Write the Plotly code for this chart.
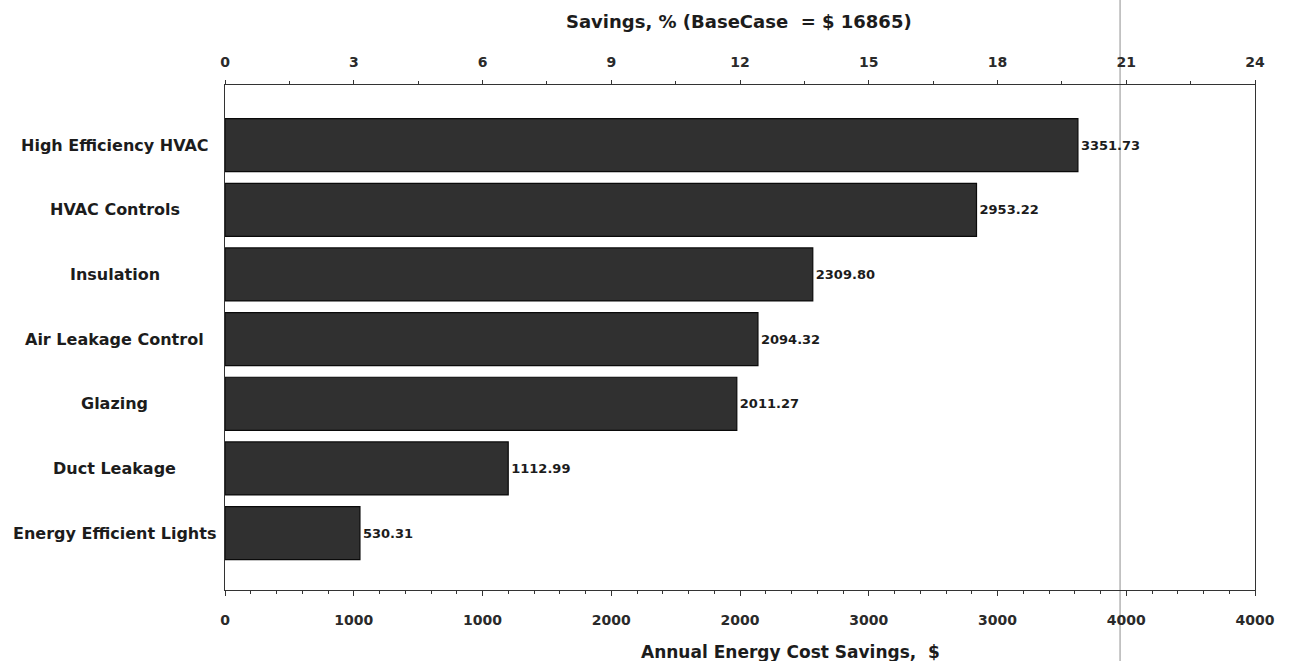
import plotly.graph_objects as go

# Energy-efficiency measures and their annual cost savings ($)
measures = [
    "High Efficiency HVAC",
    "HVAC Controls",
    "Insulation",
    "Air Leakage Control",
    "Glazing",
    "Duct Leakage",
    "Energy Efficient Lights",
]
savings = [3351.73, 2953.22, 2309.80, 2094.32, 2011.27, 1112.99, 530.31]

base_case = 16865  # annual energy cost of the base case, $

# Top axis: savings as percentage of base case
pct_ticks = [0, 3, 6, 9, 12, 15, 18, 21, 24]
# Bottom axis: the same tick positions expressed in dollars, shown rounded to thousands
dollar_ticktext = ["0", "1000", "1000", "2000", "2000", "3000", "3000", "4000", "4000"]

FONT = "DejaVu Sans"
INK = "#1c1c1c"

pct_max = pct_ticks[-1]
dollar_max = base_case * pct_max / 100
dollar_tickvals = [base_case * p / 100 for p in pct_ticks]
ypos = list(range(len(measures)))

fig = go.Figure()

fig.add_trace(go.Bar(
    x=savings,
    y=ypos,
    orientation="h",
    width=0.82,
    marker=dict(color="#303030", line=dict(color="#0a0a0a", width=1.2)),
    text=[f"{v:.2f}" for v in savings],
    textposition="outside",
    textfont=dict(family=FONT, size=13, color=INK, weight="bold"),
    cliponaxis=False,
    xaxis="x",
    yaxis="y",
    showlegend=False,
    hoverinfo="skip",
))

# Invisible companion trace on the percentage axis so it is laid out
fig.add_trace(go.Scatter(
    x=[v / base_case * 100 for v in savings],
    y=ypos,
    mode="markers",
    marker=dict(opacity=0),
    xaxis="x2",
    yaxis="y",
    showlegend=False,
    hoverinfo="skip",
))

axis_line = "#333333"
tickfont = dict(family=FONT, size=14, color="#2a2a2a", weight="bold")

fig.update_layout(
    width=1291,
    height=661,
    margin=dict(l=225, r=36, t=85, b=71),
    paper_bgcolor="white",
    plot_bgcolor="white",
    xaxis=dict(
        range=[0, dollar_max],
        tickmode="array",
        tickvals=dollar_tickvals,
        ticktext=dollar_ticktext,
        tickfont=tickfont,
        ticks="outside",
        ticklen=5,
        tickcolor=axis_line,
        ticklabelstandoff=12,
        minor=dict(ticks="outside", ticklen=3, tick0=0,
                   dtick=base_case * 0.6 / 100, tickcolor=axis_line),
        showline=True,
        linecolor=axis_line,
        linewidth=1.2,
        showgrid=False,
        zeroline=False,
        fixedrange=True,
    ),
    xaxis2=dict(
        overlaying="x",
        side="top",
        range=[0, pct_max],
        tickmode="array",
        tickvals=pct_ticks,
        tickfont=tickfont,
        ticks="outside",
        ticklen=4,
        tickcolor=axis_line,
        ticklabelstandoff=7,
        minor=dict(ticks="outside", ticklen=3, tick0=0, dtick=1.5, tickcolor=axis_line),
        showline=True,
        linecolor=axis_line,
        linewidth=1.2,
        showgrid=False,
        zeroline=False,
        fixedrange=True,
    ),
    yaxis=dict(
        range=[6.88, -0.93],
        showticklabels=False,
        ticks="",
        showline=True,
        mirror=True,
        linecolor=axis_line,
        linewidth=1.2,
        showgrid=False,
        zeroline=False,
        fixedrange=True,
    ),
)

# Category labels, centred in the left margin
for i, name in enumerate(measures):
    fig.add_annotation(
        x=-0.107, xref="paper", y=i, yref="y",
        text=name, showarrow=False, xanchor="center", yanchor="middle",
        font=dict(family=FONT, size=16, color=INK, weight="bold"),
    )

# Axis titles
fig.add_annotation(
    x=0.499, xref="paper", y=1.125, yref="paper",
    text=f"Savings, % (BaseCase  = $ {base_case})", showarrow=False,
    xanchor="center", yanchor="middle",
    font=dict(family=FONT, size=18, color=INK, weight="bold"),
)
fig.add_annotation(
    x=0.5495, xref="paper", y=-0.123, yref="paper",
    text="Annual Energy Cost Savings,  $", showarrow=False,
    xanchor="center", yanchor="middle",
    font=dict(family=FONT, size=17, color=INK, weight="bold"),
)

# Thin vertical rule running the full page height
fig.add_shape(
    type="line", xref="paper", yref="paper",
    x0=0.869, x1=0.869, y0=-0.2, y1=1.2,
    line=dict(color="#b4b4b4", width=1.5),
    layer="below",
)

fig.write_html("out.html")
